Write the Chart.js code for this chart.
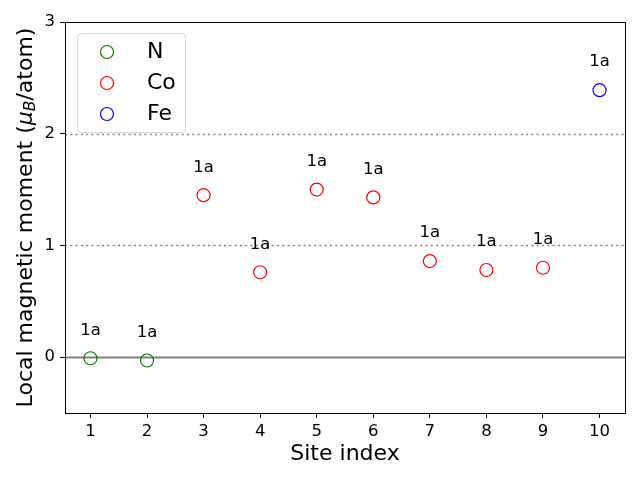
<!DOCTYPE html>
<html>
<head>
<meta charset="utf-8">
<script src="https://cdn.jsdelivr.net/npm/chart.js@4"></script>
<style>
  html, body { margin: 0; padding: 0; background: #fff; }
  #wrap { width: 640px; height: 480px; }
</style>
</head>
<body>
<div id="wrap"><canvas id="momentChart" width="640" height="480"></canvas></div>
<script>
// Datos del gráfico
const siteIndex = [1, 2, 3, 4, 5, 6, 7, 8, 9, 10];
const siteLabels = ["1a", "1a", "1a", "1a", "1a", "1a", "1a", "1a", "1a", "1a"];
const elementNames = ["N", "Co", "Fe"];
const elementColors = ["green", "red", "blue"];
const nSites = [1, 2];
const nMoments = [-0.01, -0.03];
const coSites = [3, 4, 5, 6, 7, 8, 9];
const coMoments = [1.45, 0.76, 1.50, 1.43, 0.86, 0.78, 0.80];
const feSites = [10];
const feMoments = [2.39];
const yTicks = [0, 1, 2, 3];
const refLines = [0, 1, 2];

const font = "'DejaVu Sans', sans-serif";

const toPoints = (xs, ys) => xs.map((x, i) => ({ x: x, y: ys[i] }));
const groups = [toPoints(nSites, nMoments), toPoints(coSites, coMoments), toPoints(feSites, feMoments)];

// Líneas de referencia, marco, etiquetas, leyenda y títulos
const extrasPlugin = {
  id: "extras",
  beforeDatasetsDraw(chart) {
    const { ctx, chartArea: a, scales: { y } } = chart;
    ctx.save();
    refLines.forEach((v) => {
      const py = Math.round(y.getPixelForValue(v)) + 0.5;
      ctx.beginPath();
      ctx.strokeStyle = "#808080";
      if (v === 0) { ctx.setLineDash([]); ctx.lineWidth = 2; }
      else { ctx.setLineDash([2, 3.3]); ctx.lineWidth = 1.5; }
      ctx.moveTo(a.left, py);
      ctx.lineTo(a.right, py);
      ctx.stroke();
    });
    ctx.restore();
  },
  afterDraw(chart) {
    const { ctx, chartArea: a, scales: { x, y } } = chart;
    ctx.save();
    // marco
    ctx.strokeStyle = "#000";
    ctx.lineWidth = 1;
    ctx.strokeRect(Math.round(a.left) + 0.5, Math.round(a.top) + 0.5, Math.round(a.right - a.left), Math.round(a.bottom - a.top));
    // etiquetas "1a"
    ctx.fillStyle = "#000";
    ctx.font = "16.5px " + font;
    ctx.textAlign = "center";
    ctx.textBaseline = "middle";
    const allPts = groups.flat();
    allPts.forEach((p) => {
      const i = siteIndex.indexOf(p.x);
      ctx.fillText(siteLabels[i], x.getPixelForValue(p.x), y.getPixelForValue(p.y + 0.25));
    });
    // leyenda
    const lx = 77, ly = 33, lw = 108, lh = 99, r = 4;
    ctx.beginPath();
    ctx.roundRect(lx + 0.5, ly + 0.5, lw, lh, r);
    ctx.fillStyle = "rgba(255,255,255,0.8)";
    ctx.fill();
    ctx.strokeStyle = "#d5d5d5";
    ctx.lineWidth = 1;
    ctx.stroke();
    elementNames.forEach((name, i) => {
      const cy = 52 + i * 31;
      ctx.beginPath();
      ctx.arc(107, cy, 6.5, 0, Math.PI * 2);
      ctx.strokeStyle = elementColors[i];
      ctx.lineWidth = 1.2;
      ctx.stroke();
      ctx.fillStyle = "#000";
      ctx.font = "22px " + font;
      ctx.textAlign = "left";
      ctx.textBaseline = "middle";
      ctx.fillText(name, 147, cy);
    });
    // título eje x
    ctx.font = "22px " + font;
    ctx.textAlign = "center";
    ctx.textBaseline = "middle";
    ctx.fillText("Site index", (a.left + a.right) / 2, 454);
    // título eje y con subíndice
    ctx.translate(26, (a.top + a.bottom) / 2);
    ctx.rotate(-Math.PI / 2);
    const parts = [
      { t: "Local magnetic moment (", f: "22px " + font, dy: 0 },
      { t: "μ", f: "italic 22px " + font, dy: 0 },
      { t: "B", f: "italic 15.5px " + font, dy: 5 },
      { t: "/atom)", f: "22px " + font, dy: 0 }
    ];
    let total = 0;
    parts.forEach((p) => { ctx.font = p.f; total += ctx.measureText(p.t).width; });
    let cx = -total / 2;
    ctx.textAlign = "left";
    parts.forEach((p) => {
      ctx.font = p.f;
      ctx.fillText(p.t, cx, p.dy);
      cx += ctx.measureText(p.t).width;
    });
    ctx.restore();
  }
};

new Chart(document.getElementById("momentChart"), {
  type: "scatter",
  data: {
    datasets: groups.map((pts, i) => ({
      label: elementNames[i],
      data: pts,
      pointStyle: "circle",
      pointRadius: 6.5,
      pointHoverRadius: 6.5,
      pointBorderWidth: 1.2,
      borderColor: elementColors[i],
      backgroundColor: "rgba(0,0,0,0)"
    }))
  },
  options: {
    responsive: false,
    animation: false,
    layout: { padding: { top: 22, right: 15, left: 0, bottom: 0 } },
    plugins: { legend: { display: false }, tooltip: { enabled: false } },
    scales: {
      x: {
        type: "linear",
        min: 0.55,
        max: 10.45,
        afterBuildTicks: (s) => { s.ticks = siteIndex.map((v) => ({ value: v })); },
        afterFit: (s) => { s.height = 67; },
        grid: { display: true, drawOnChartArea: false, drawTicks: true, tickLength: 5, tickColor: "#000" },
        border: { display: false },
        ticks: { color: "#000", font: { family: font, size: 16.5 }, padding: 4, autoSkip: false, maxRotation: 0 }
      },
      y: {
        type: "linear",
        min: -0.5,
        max: 3,
        afterBuildTicks: (s) => { s.ticks = yTicks.map((v) => ({ value: v })); },
        afterFit: (s) => { s.width = 65; },
        grid: { display: true, drawOnChartArea: false, drawTicks: true, tickLength: 5, tickColor: "#000" },
        border: { display: false },
        ticks: { color: "#000", font: { family: font, size: 16.5 }, padding: 5 }
      }
    }
  },
  plugins: [extrasPlugin]
});
</script>
</body>
</html>
